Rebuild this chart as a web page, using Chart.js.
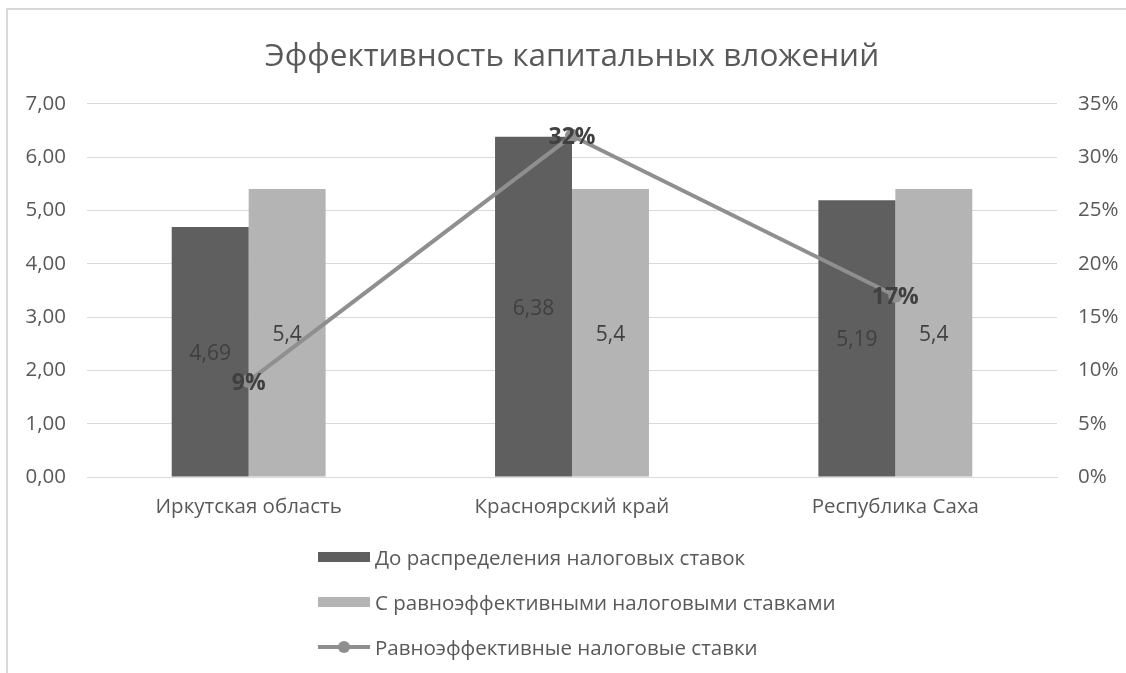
<!DOCTYPE html>
<html>
<head>
<meta charset="utf-8">
<script src="https://cdn.jsdelivr.net/npm/chart.js@4.4.1/dist/chart.umd.min.js"></script>
<style>
    body { margin: 0; background: #fff; font-family: 'Open Sans', sans-serif; overflow: hidden; }
    #box { position: absolute; left: 6px; top: 8px; width: 1140px; height: 700px; border-left: 2px solid #d9d9d9; border-top: 2px solid #d9d9d9; }
    #wrap { position: absolute; left: -8px; top: 0; width: 1140px; height: 530px; }
    #legend { position: absolute; left: 310px; top: 524px; }
    .item { display: flex; align-items: center; height: 45px; color: #595959; font-size: 20.5px; }
    .mark { width: 52px; height: 10px; margin-right: 5px; position: relative; }
</style>
</head>
<body>
<div id="box">
    <div id="wrap"><canvas id="chart"></canvas></div>
    <div id="legend"></div>
</div>
<script>
const categories = ['Иркутская область', 'Красноярский край', 'Республика Саха'];
const beforeValues = [4.69, 6.38, 5.19];
const equalValues = [5.4, 5.4, 5.4];
const rateValues = [0.09, 0.32, 0.17];
const leftTicks = [0, 1, 2, 3, 4, 5, 6, 7];
const rightTicks = [0, 0.05, 0.10, 0.15, 0.20, 0.25, 0.30, 0.35];

const fmtComma = (v, d) => v.toFixed(d).replace('.', ',');
const font = size => ({ family: "'Open Sans', sans-serif", size: size });

// labels on bars and points, drawn at the element positions
const valueLabels = {
    id: 'valueLabels',
    afterDatasetsDraw(chart) {
        const ctx = chart.ctx;
        ctx.save();
        ctx.textAlign = 'center';
        ctx.textBaseline = 'middle';
        ctx.fillStyle = '#404040';
        chart.data.datasets.forEach((ds, di) => {
            const meta = chart.getDatasetMeta(di);
            meta.data.forEach((el, i) => {
                const v = ds.data[i];
                if (ds.type === 'line') {
                    ctx.font = "bold 23px 'Open Sans', sans-serif";
                    ctx.fillText(Math.round(v * 100) + '%', el.x, el.y + 2);
                } else {
                    ctx.font = "21px 'Open Sans', sans-serif";
                    ctx.fillText(String(v).replace('.', ','), el.x, (el.y + el.base) / 2 + 2);
                }
            });
        });
        ctx.restore();
    }
};

const chart = new Chart(document.getElementById('chart'), {
    type: 'bar',
    data: {
        labels: categories,
        datasets: [
            {
                type: 'line',
                label: 'Равноэффективные налоговые ставки',
                data: rateValues,
                yAxisID: 'y2',
                borderColor: '#8f8f8f',
                backgroundColor: '#8f8f8f',
                borderWidth: 4,
                pointRadius: 5,
                tension: 0,
                order: 0
            },
            {
                label: 'До распределения налоговых ставок',
                data: beforeValues,
                backgroundColor: '#5f5f5f',
                yAxisID: 'y',
                categoryPercentage: 0.476,
                barPercentage: 1,
                order: 1
            },
            {
                label: 'С равноэффективными налоговыми ставками',
                data: equalValues,
                backgroundColor: '#b4b4b4',
                yAxisID: 'y',
                categoryPercentage: 0.476,
                barPercentage: 1,
                order: 1
            }
        ]
    },
    options: {
        responsive: true,
        maintainAspectRatio: false,
        animation: false,
        layout: { padding: { left: 7, right: 3, top: 0, bottom: 3 } },
        plugins: {
            legend: { display: false },
            tooltip: { enabled: false },
            title: {
                display: true,
                text: 'Эффективность капитальных вложений',
                color: '#595959',
                font: { family: "'Open Sans', sans-serif", size: 31.5, weight: 'normal' },
                padding: { top: 28, bottom: 28 }
            }
        },
        scales: {
            x: {
                grid: { display: false, drawTicks: false },
                border: { display: true, color: '#d9d9d9', width: 1 },
                ticks: { color: '#595959', padding: 18, font: font(20.5) },
                afterFit: s => { s.height = 60; }
            },
            y: {
                position: 'left',
                min: 0,
                max: 7,
                afterBuildTicks: s => { s.ticks = leftTicks.map(v => ({ value: v })); },
                grid: { color: '#d9d9d9', drawTicks: false },
                border: { display: false },
                ticks: { color: '#595959', padding: 21, font: font(20.5), callback: v => fmtComma(v, 2) },
                afterFit: s => { s.width = 80; }
            },
            y2: {
                position: 'right',
                min: 0,
                max: 0.35,
                afterBuildTicks: s => { s.ticks = rightTicks.map(v => ({ value: v })); },
                grid: { display: false, drawTicks: false },
                border: { display: false },
                ticks: { color: '#595959', padding: 21, font: font(20.5), callback: v => Math.round(v * 100) + '%' },
                afterFit: s => { s.width = 80; }
            }
        }
    },
    plugins: [valueLabels]
});

// legend in the Excel layout: one item per row
const legend = document.getElementById('legend');
[1, 2, 0].forEach(i => {
    const ds = chart.data.datasets[i];
    const row = document.createElement('div');
    row.className = 'item';
    const mark = document.createElement('div');
    mark.className = 'mark';
    if (ds.type === 'line') {
        mark.style.height = '14px';
        mark.innerHTML = '<div style="position:absolute;left:0;right:0;top:5px;height:4px;background:' + ds.borderColor + '"></div>' +
            '<div style="position:absolute;left:20px;top:1px;width:12px;height:12px;border-radius:50%;background:' + ds.borderColor + '"></div>';
    } else {
        mark.style.background = ds.backgroundColor;
    }
    row.appendChild(mark);
    row.appendChild(document.createTextNode(ds.label));
    legend.appendChild(row);
});
</script>
</body>
</html>
